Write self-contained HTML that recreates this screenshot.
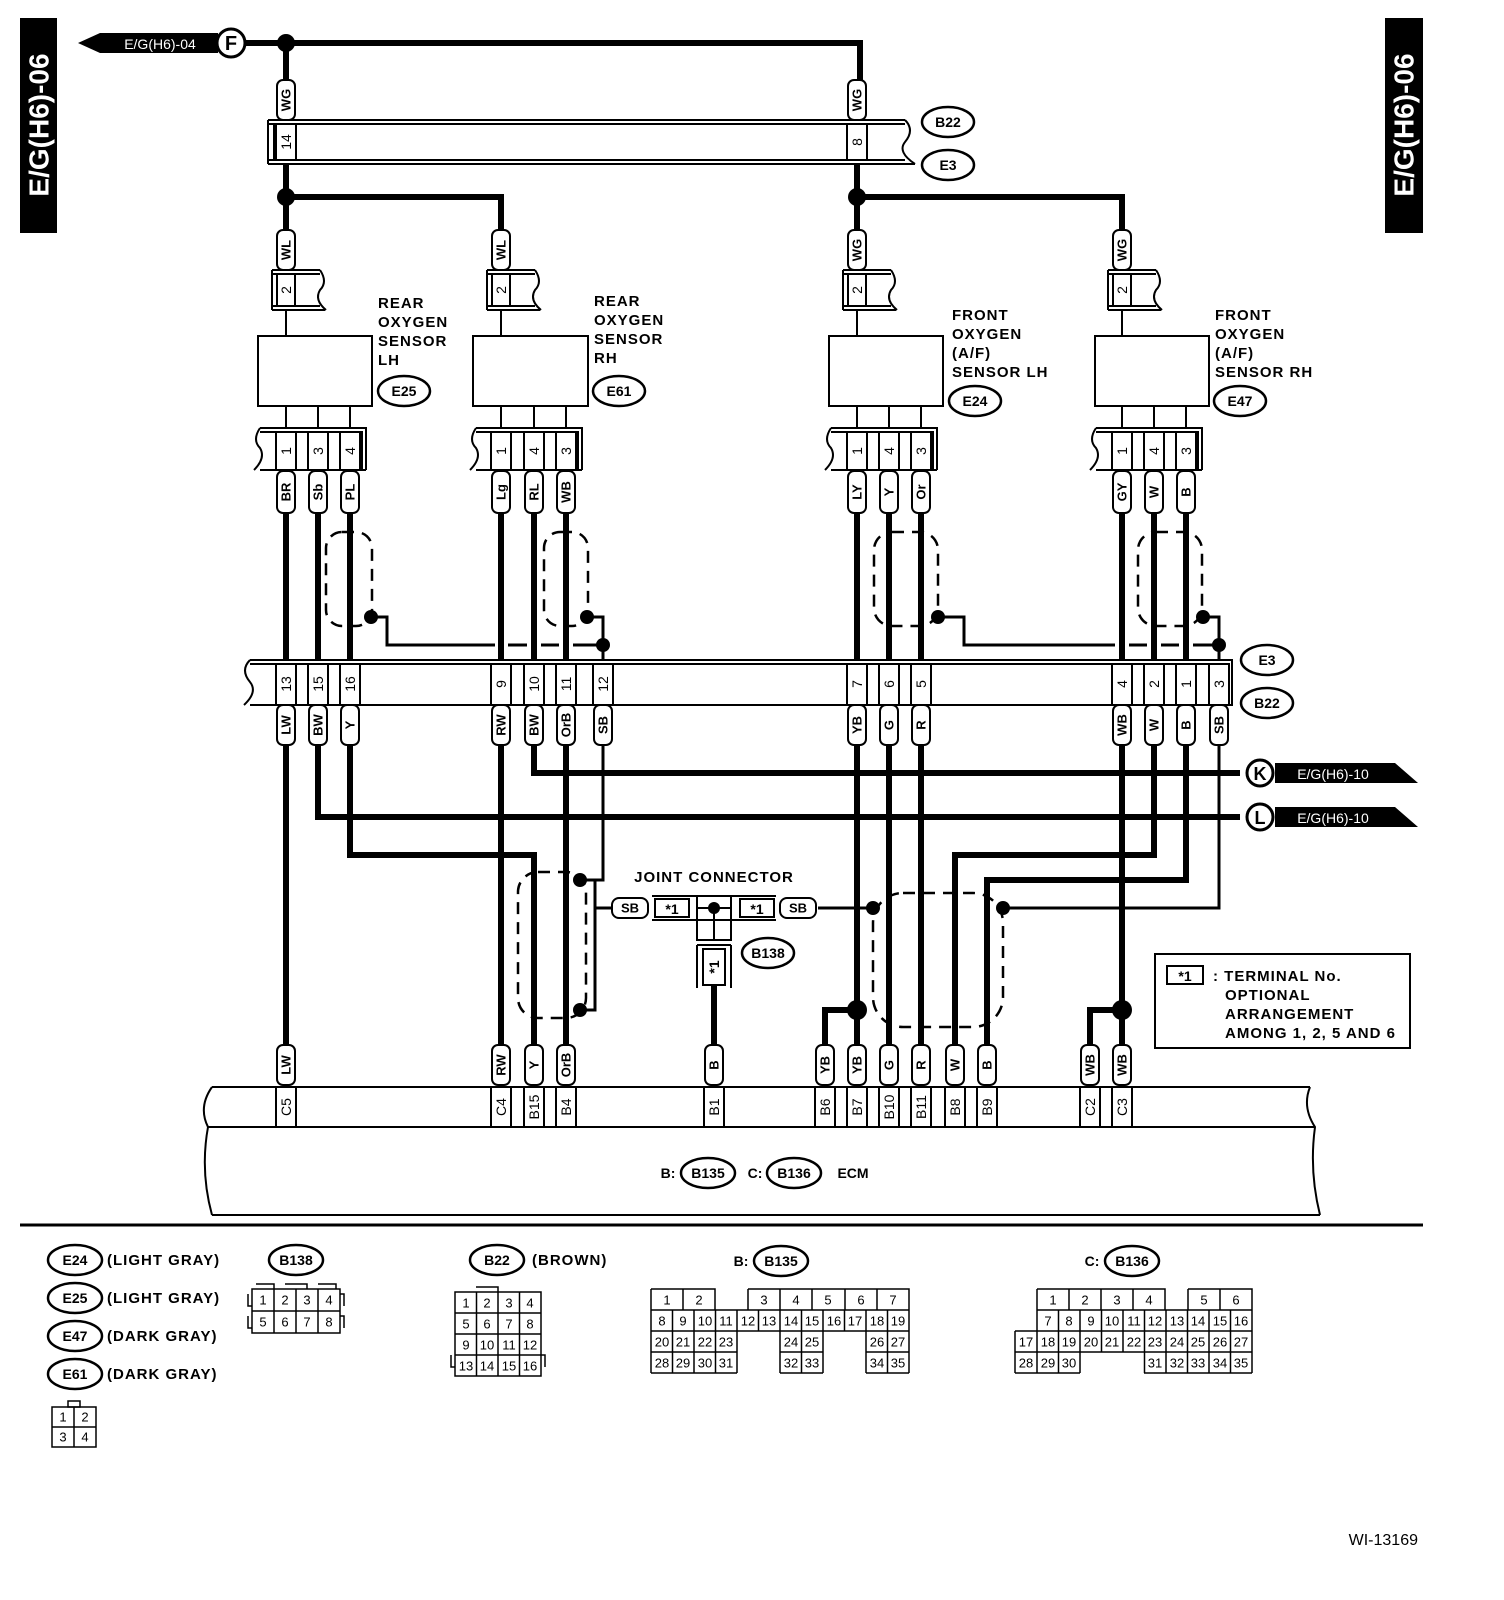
<!DOCTYPE html><html><head><meta charset="utf-8"><style>
body{margin:0;background:#fff}
svg{display:block;font-family:"Liberation Sans",sans-serif;font-weight:bold}
.w{stroke:#000;stroke-width:6;fill:none}
.l{stroke:#000;stroke-width:3;fill:none}
.n{stroke:#000;stroke-width:2;fill:none}
.d{stroke:#000;stroke-width:2.5;fill:none;stroke-dasharray:12 8}
.b{fill:#fff;stroke:#000;stroke-width:2}
.t rect{fill:#fff;stroke:#000;stroke-width:2}
.t text{font-size:13px;text-anchor:middle;dominant-baseline:central}
.p text{font-size:13px;text-anchor:middle;dominant-baseline:central;font-weight:normal}
.c text{font-size:14px;text-anchor:middle;dominant-baseline:central;font-weight:normal}
.e ellipse{fill:#fff;stroke:#000;stroke-width:2.5}
.e text{font-size:14px;text-anchor:middle;dominant-baseline:central}
.lab{font-size:15px;letter-spacing:1px}
</style></head><body>
<svg width="1504" height="1600" viewBox="0 0 1504 1600" xmlns="http://www.w3.org/2000/svg">
<!-- side labels -->
<rect x="20" y="18" width="37" height="215" fill="#000"/>
<text transform="translate(39,125) rotate(-90)" fill="#fff" font-size="28" text-anchor="middle" dominant-baseline="central">E/G(H6)-06</text>
<rect x="1385" y="18" width="38" height="215" fill="#000"/>
<text transform="translate(1404,125) rotate(-90)" fill="#fff" font-size="28" text-anchor="middle" dominant-baseline="central">E/G(H6)-06</text>

<!-- top arrow F -->
<polygon points="78,43 100,33 218,33 218,53 100,53" fill="#000"/>
<text x="160" y="44" fill="#fff" font-size="14" font-weight="normal" text-anchor="middle" dominant-baseline="central">E/G(H6)-04</text>
<circle cx="231" cy="43" r="14" fill="#fff" stroke="#000" stroke-width="3"/>
<text x="231" y="44" font-size="20" text-anchor="middle" dominant-baseline="central">F</text>

<!-- top wires -->
<path class="w" d="M245,43 H860 V80 M286,43 V80 M286,164 V230 M286,197 H501 V230 M857,164 V230 M857,197 H1122 V230"/>
<circle cx="286" cy="43" r="9"/><circle cx="286" cy="197" r="9"/><circle cx="857" cy="197" r="9"/>

<!-- top connector -->
<path class="n" d="M268,120 H905 M268,124 H905 M268,160 H905 M268,164 H915 M268,120 V164 M274,124 V160"/>
<path class="n" d="M905,120 q10,10 0,22 q-8,10 10,22"/>
<g class="c"><rect class="b" x="276" y="124" width="20" height="36"/><text transform="translate(286,142) rotate(-90)">14</text>
<rect class="b" x="847" y="124" width="20" height="36"/><text transform="translate(857,142) rotate(-90)">8</text></g>
<g class="e"><ellipse cx="948" cy="122" rx="26" ry="15"/><text x="948" y="122">B22</text><ellipse cx="948" cy="165" rx="26" ry="15"/><text x="948" y="165">E3</text></g>

<!-- WG tags top -->
<g class="t"><g transform="translate(286,100)"><rect x="-9" y="-20" width="18" height="40" rx="6"/><text transform="rotate(-90)">WG</text></g>
<g transform="translate(857,100)"><rect x="-9" y="-20" width="18" height="40" rx="6"/><text transform="rotate(-90)">WG</text></g></g>

<!-- sensors: generic -->
<!-- sensor 1 -->
<g class="t">
<g transform="translate(286,250)"><rect x="-9" y="-20" width="18" height="40" rx="6"/><text transform="rotate(-90)">WL</text></g>
<g transform="translate(501,250)"><rect x="-9" y="-20" width="18" height="40" rx="6"/><text transform="rotate(-90)">WL</text></g>
<g transform="translate(857,250)"><rect x="-9" y="-20" width="18" height="40" rx="6"/><text transform="rotate(-90)">WG</text></g>
<g transform="translate(1122,250)"><rect x="-9" y="-20" width="18" height="40" rx="6"/><text transform="rotate(-90)">WG</text></g>
</g>
<g class="n">
<path d="M272,270 H320 M272,274 H320 M272,306 H320 M272,310 H325 M272,270 V310 M320,270 q8,12 0,20 q-6,10 6,20 M286,310 V336"/>
<path d="M487,270 H535 M487,274 H535 M487,306 H535 M487,310 H540 M487,270 V310 M535,270 q8,12 0,20 q-6,10 6,20 M501,310 V336"/>
<path d="M843,270 H891 M843,274 H891 M843,306 H891 M843,310 H896 M843,270 V310 M891,270 q8,12 0,20 q-6,10 6,20 M857,310 V336"/>
<path d="M1108,270 H1156 M1108,274 H1156 M1108,306 H1156 M1108,310 H1161 M1108,270 V310 M1156,270 q8,12 0,20 q-6,10 6,20 M1122,310 V336"/>
</g>
<g class="c">
<rect class="b" x="277" y="274" width="18" height="32"/><text transform="translate(286,290) rotate(-90)">2</text>
<rect class="b" x="492" y="274" width="18" height="32"/><text transform="translate(501,290) rotate(-90)">2</text>
<rect class="b" x="848" y="274" width="18" height="32"/><text transform="translate(857,290) rotate(-90)">2</text>
<rect class="b" x="1113" y="274" width="18" height="32"/><text transform="translate(1122,290) rotate(-90)">2</text>
</g>
<rect class="b" x="258" y="336" width="114" height="70"/>
<rect class="b" x="473" y="336" width="115" height="70"/>
<rect class="b" x="829" y="336" width="114" height="70"/>
<rect class="b" x="1095" y="336" width="114" height="70"/>
<g class="lab">
<text x="378" y="308">REAR</text><text x="378" y="327">OXYGEN</text><text x="378" y="346">SENSOR</text><text x="378" y="365">LH</text>
<text x="594" y="306">REAR</text><text x="594" y="325">OXYGEN</text><text x="594" y="344">SENSOR</text><text x="594" y="363">RH</text>
<text x="952" y="320">FRONT</text><text x="952" y="339">OXYGEN</text><text x="952" y="358">(A/F)</text><text x="952" y="377">SENSOR LH</text>
<text x="1215" y="320">FRONT</text><text x="1215" y="339">OXYGEN</text><text x="1215" y="358">(A/F)</text><text x="1215" y="377">SENSOR RH</text>
</g>
<g class="e">
<ellipse cx="404" cy="391" rx="26" ry="15"/><text x="404" y="391">E25</text>
<ellipse cx="619" cy="391" rx="26" ry="15"/><text x="619" y="391">E61</text>
<ellipse cx="975" cy="401" rx="26" ry="15"/><text x="975" y="401">E24</text>
<ellipse cx="1240" cy="401" rx="26" ry="15"/><text x="1240" y="401">E47</text>
</g>
<!-- sensor bottom connectors -->
<g class="n">
<path d="M286,406 V428 M318,406 V428 M350,406 V428 M501,406 V428 M534,406 V428 M566,406 V428 M857,406 V428 M889,406 V428 M921,406 V428 M1122,406 V428 M1154,406 V428 M1186,406 V428"/>
<path d="M260,428 H366 V470 M260,432 H362 V470 M260,470 H366 M260,428 q-8,12 0,20 q6,10 -6,22"/>
<path d="M476,428 H582 V470 M476,432 H578 V470 M476,470 H582 M476,428 q-8,12 0,20 q6,10 -6,22"/>
<path d="M831,428 H937 V470 M831,432 H933 V470 M831,470 H937 M831,428 q-8,12 0,20 q6,10 -6,22"/>
<path d="M1096,428 H1202 V470 M1096,432 H1198 V470 M1096,470 H1202 M1096,428 q-8,12 0,20 q6,10 -6,22"/>
</g>
<g class="c">
<rect class="b" x="276" y="432" width="20" height="38"/><text transform="translate(286,451) rotate(-90)">1</text>
<rect class="b" x="308" y="432" width="20" height="38"/><text transform="translate(318,451) rotate(-90)">3</text>
<rect class="b" x="340" y="432" width="20" height="38"/><text transform="translate(350,451) rotate(-90)">4</text>
<rect class="b" x="491" y="432" width="20" height="38"/><text transform="translate(501,451) rotate(-90)">1</text>
<rect class="b" x="524" y="432" width="20" height="38"/><text transform="translate(534,451) rotate(-90)">4</text>
<rect class="b" x="556" y="432" width="20" height="38"/><text transform="translate(566,451) rotate(-90)">3</text>
<rect class="b" x="847" y="432" width="20" height="38"/><text transform="translate(857,451) rotate(-90)">1</text>
<rect class="b" x="879" y="432" width="20" height="38"/><text transform="translate(889,451) rotate(-90)">4</text>
<rect class="b" x="911" y="432" width="20" height="38"/><text transform="translate(921,451) rotate(-90)">3</text>
<rect class="b" x="1112" y="432" width="20" height="38"/><text transform="translate(1122,451) rotate(-90)">1</text>
<rect class="b" x="1144" y="432" width="20" height="38"/><text transform="translate(1154,451) rotate(-90)">4</text>
<rect class="b" x="1176" y="432" width="20" height="38"/><text transform="translate(1186,451) rotate(-90)">3</text>
</g>

<!-- thick wires sensor to middle connector -->
<path class="w" d="M286,512 V660 M318,512 V660 M350,512 V660 M501,512 V660 M534,512 V660 M566,512 V660 M857,512 V660 M889,512 V660 M921,512 V660 M1122,512 V660 M1154,512 V660 M1186,512 V660"/>
<!-- shields upper -->
<g class="d">
<rect x="326" y="532" width="46" height="94" rx="16"/>
<rect x="544" y="532" width="44" height="94" rx="16"/>
<rect x="874" y="532" width="64" height="94" rx="18"/>
<rect x="1138" y="532" width="64" height="94" rx="18"/>
</g>
<path class="l" d="M371,617 H387 V645 H495 M508,645 H527 M541,645 H559 M573,645 H603 M587,617 H603 V660"/>
<path class="l" d="M938,617 H964 V645 H1115 M1129,645 H1147 M1161,645 H1179 M1193,645 H1219 M1203,617 H1219 V660"/>
<circle cx="371" cy="617" r="7"/><circle cx="587" cy="617" r="7"/><circle cx="603" cy="645" r="7"/>
<circle cx="938" cy="617" r="7"/><circle cx="1203" cy="617" r="7"/><circle cx="1219" cy="645" r="7"/>

<!-- tags under sensors -->
<g class="t">
<g transform="translate(286,492)"><rect x="-9" y="-21" width="18" height="42" rx="6"/><text transform="rotate(-90)">BR</text></g>
<g transform="translate(318,492)"><rect x="-9" y="-21" width="18" height="42" rx="6"/><text transform="rotate(-90)">Sb</text></g>
<g transform="translate(350,492)"><rect x="-9" y="-21" width="18" height="42" rx="6"/><text transform="rotate(-90)">PL</text></g>
<g transform="translate(501,492)"><rect x="-9" y="-21" width="18" height="42" rx="6"/><text transform="rotate(-90)">Lg</text></g>
<g transform="translate(534,492)"><rect x="-9" y="-21" width="18" height="42" rx="6"/><text transform="rotate(-90)">RL</text></g>
<g transform="translate(566,492)"><rect x="-9" y="-21" width="18" height="42" rx="6"/><text transform="rotate(-90)">WB</text></g>
<g transform="translate(857,492)"><rect x="-9" y="-21" width="18" height="42" rx="6"/><text transform="rotate(-90)">LY</text></g>
<g transform="translate(889,492)"><rect x="-9" y="-21" width="18" height="42" rx="6"/><text transform="rotate(-90)">Y</text></g>
<g transform="translate(921,492)"><rect x="-9" y="-21" width="18" height="42" rx="6"/><text transform="rotate(-90)">Or</text></g>
<g transform="translate(1122,492)"><rect x="-9" y="-21" width="18" height="42" rx="6"/><text transform="rotate(-90)">GY</text></g>
<g transform="translate(1154,492)"><rect x="-9" y="-21" width="18" height="42" rx="6"/><text transform="rotate(-90)">W</text></g>
<g transform="translate(1186,492)"><rect x="-9" y="-21" width="18" height="42" rx="6"/><text transform="rotate(-90)">B</text></g>
</g>

<!-- middle connector -->
<path class="n" d="M250,660 H1232 V705 H250 M250,664 H1228 V705 M250,660 q-10,10 0,22 q8,10 -6,23"/>
<g class="c">
<rect class="b" x="276" y="664" width="20" height="41"/><text transform="translate(286,684) rotate(-90)">13</text>
<rect class="b" x="308" y="664" width="20" height="41"/><text transform="translate(318,684) rotate(-90)">15</text>
<rect class="b" x="340" y="664" width="20" height="41"/><text transform="translate(350,684) rotate(-90)">16</text>
<rect class="b" x="491" y="664" width="20" height="41"/><text transform="translate(501,684) rotate(-90)">9</text>
<rect class="b" x="524" y="664" width="20" height="41"/><text transform="translate(534,684) rotate(-90)">10</text>
<rect class="b" x="556" y="664" width="20" height="41"/><text transform="translate(566,684) rotate(-90)">11</text>
<rect class="b" x="593" y="664" width="20" height="41"/><text transform="translate(603,684) rotate(-90)">12</text>
<rect class="b" x="847" y="664" width="20" height="41"/><text transform="translate(857,684) rotate(-90)">7</text>
<rect class="b" x="879" y="664" width="20" height="41"/><text transform="translate(889,684) rotate(-90)">6</text>
<rect class="b" x="911" y="664" width="20" height="41"/><text transform="translate(921,684) rotate(-90)">5</text>
<rect class="b" x="1112" y="664" width="20" height="41"/><text transform="translate(1122,684) rotate(-90)">4</text>
<rect class="b" x="1144" y="664" width="20" height="41"/><text transform="translate(1154,684) rotate(-90)">2</text>
<rect class="b" x="1176" y="664" width="20" height="41"/><text transform="translate(1186,684) rotate(-90)">1</text>
<rect class="b" x="1209" y="664" width="20" height="41"/><text transform="translate(1219,684) rotate(-90)">3</text>
</g>
<g class="e"><ellipse cx="1267" cy="660" rx="26" ry="15"/><text x="1267" y="660">E3</text><ellipse cx="1267" cy="703" rx="26" ry="15"/><text x="1267" y="703">B22</text></g>

<!-- lower wires -->
<path class="w" d="M286,745 V1045 M318,745 V817 H1240 M350,745 V855 H534 V1045 M501,745 V1045 M534,745 V773 H1240 M566,745 V1045 M857,745 V1045 M825,1045 V1010 H857 M889,745 V1045 M921,745 V1045 M1122,745 V1045 M1090,1045 V1010 H1122 M1154,745 V855 H955 V1045 M1186,745 V880 H987 V1045 M714,985 V1045"/>
<!-- white gaps for crossings -->
<g stroke="#fff" stroke-width="8">
<path d="M495,773 V773"/>
</g>
<path class="l" d="M603,745 V880 H580 M595,880 V1010 H580 M595,908 H612 M818,908 H873 M1219,745 V908 H1003"/>
<g class="d">
<rect x="518" y="872" width="68" height="146" rx="20"/>
<rect x="873" y="893" width="130" height="134" rx="30"/>
</g>
<circle cx="580" cy="880" r="7"/><circle cx="580" cy="1010" r="7"/>
<circle cx="873" cy="908" r="7"/><circle cx="1003" cy="908" r="7"/>
<circle cx="857" cy="1010" r="10"/><circle cx="1122" cy="1010" r="10"/>

<g class="t">
<g transform="translate(286,725)"><rect x="-9" y="-20" width="18" height="40" rx="6"/><text transform="rotate(-90)">LW</text></g>
<g transform="translate(318,725)"><rect x="-9" y="-20" width="18" height="40" rx="6"/><text transform="rotate(-90)">BW</text></g>
<g transform="translate(350,725)"><rect x="-9" y="-20" width="18" height="40" rx="6"/><text transform="rotate(-90)">Y</text></g>
<g transform="translate(501,725)"><rect x="-9" y="-20" width="18" height="40" rx="6"/><text transform="rotate(-90)">RW</text></g>
<g transform="translate(534,725)"><rect x="-9" y="-20" width="18" height="40" rx="6"/><text transform="rotate(-90)">BW</text></g>
<g transform="translate(566,725)"><rect x="-9" y="-20" width="18" height="40" rx="6"/><text transform="rotate(-90)">OrB</text></g>
<g transform="translate(603,725)"><rect x="-9" y="-20" width="18" height="40" rx="6"/><text transform="rotate(-90)">SB</text></g>
<g transform="translate(857,725)"><rect x="-9" y="-20" width="18" height="40" rx="6"/><text transform="rotate(-90)">YB</text></g>
<g transform="translate(889,725)"><rect x="-9" y="-20" width="18" height="40" rx="6"/><text transform="rotate(-90)">G</text></g>
<g transform="translate(921,725)"><rect x="-9" y="-20" width="18" height="40" rx="6"/><text transform="rotate(-90)">R</text></g>
<g transform="translate(1122,725)"><rect x="-9" y="-20" width="18" height="40" rx="6"/><text transform="rotate(-90)">WB</text></g>
<g transform="translate(1154,725)"><rect x="-9" y="-20" width="18" height="40" rx="6"/><text transform="rotate(-90)">W</text></g>
<g transform="translate(1186,725)"><rect x="-9" y="-20" width="18" height="40" rx="6"/><text transform="rotate(-90)">B</text></g>
<g transform="translate(1219,725)"><rect x="-9" y="-20" width="18" height="40" rx="6"/><text transform="rotate(-90)">SB</text></g>
<!-- ECM tags -->
<g transform="translate(286,1065)"><rect x="-9" y="-20" width="18" height="40" rx="6"/><text transform="rotate(-90)">LW</text></g>
<g transform="translate(501,1065)"><rect x="-9" y="-20" width="18" height="40" rx="6"/><text transform="rotate(-90)">RW</text></g>
<g transform="translate(534,1065)"><rect x="-9" y="-20" width="18" height="40" rx="6"/><text transform="rotate(-90)">Y</text></g>
<g transform="translate(566,1065)"><rect x="-9" y="-20" width="18" height="40" rx="6"/><text transform="rotate(-90)">OrB</text></g>
<g transform="translate(714,1065)"><rect x="-9" y="-20" width="18" height="40" rx="6"/><text transform="rotate(-90)">B</text></g>
<g transform="translate(825,1065)"><rect x="-9" y="-20" width="18" height="40" rx="6"/><text transform="rotate(-90)">YB</text></g>
<g transform="translate(857,1065)"><rect x="-9" y="-20" width="18" height="40" rx="6"/><text transform="rotate(-90)">YB</text></g>
<g transform="translate(889,1065)"><rect x="-9" y="-20" width="18" height="40" rx="6"/><text transform="rotate(-90)">G</text></g>
<g transform="translate(921,1065)"><rect x="-9" y="-20" width="18" height="40" rx="6"/><text transform="rotate(-90)">R</text></g>
<g transform="translate(955,1065)"><rect x="-9" y="-20" width="18" height="40" rx="6"/><text transform="rotate(-90)">W</text></g>
<g transform="translate(987,1065)"><rect x="-9" y="-20" width="18" height="40" rx="6"/><text transform="rotate(-90)">B</text></g>
<g transform="translate(1090,1065)"><rect x="-9" y="-20" width="18" height="40" rx="6"/><text transform="rotate(-90)">WB</text></g>
<g transform="translate(1122,1065)"><rect x="-9" y="-20" width="18" height="40" rx="6"/><text transform="rotate(-90)">WB</text></g>
</g>

<!-- K, L -->
<circle cx="1260" cy="773" r="13" fill="#fff" stroke="#000" stroke-width="3"/><text x="1260" y="774" font-size="18" text-anchor="middle" dominant-baseline="central">K</text>
<polygon points="1275,763 1395,763 1418,783 1275,783" fill="#000"/><text x="1333" y="774" fill="#fff" font-size="14" font-weight="normal" text-anchor="middle" dominant-baseline="central">E/G(H6)-10</text>
<circle cx="1260" cy="817" r="13" fill="#fff" stroke="#000" stroke-width="3"/><text x="1260" y="818" font-size="18" text-anchor="middle" dominant-baseline="central">L</text>
<polygon points="1275,807 1395,807 1418,827 1275,827" fill="#000"/><text x="1333" y="818" fill="#fff" font-size="14" font-weight="normal" text-anchor="middle" dominant-baseline="central">E/G(H6)-10</text>

<!-- joint connector -->
<text x="714" y="882" class="lab" text-anchor="middle">JOINT CONNECTOR</text>
<path class="n" d="M652,896 H776 M652,920 H776 M697,896 V940 H731 V896 M714,908 V940"/>
<g class="t">
<g transform="translate(630,908)"><rect x="-18" y="-10" width="36" height="20" rx="7"/><text transform="">SB</text></g>
<g transform="translate(798,908)"><rect x="-18" y="-10" width="36" height="20" rx="7"/><text>SB</text></g>
</g>
<rect class="b" x="655" y="899" width="34" height="18"/><text x="672" y="909" font-size="14" text-anchor="middle" dominant-baseline="central">*1</text>
<rect class="b" x="740" y="899" width="34" height="18"/><text x="757" y="909" font-size="14" text-anchor="middle" dominant-baseline="central">*1</text>
<path class="n" d="M697,908 H731"/>
<circle cx="714" cy="908" r="6"/>
<path class="n" d="M697,945 V988 M731,945 V988 M697,945 H731"/>
<rect class="b" x="703" y="949" width="22" height="36"/><text transform="translate(714,967) rotate(-90)" font-size="14" text-anchor="middle" dominant-baseline="central">*1</text>
<g class="e"><ellipse cx="768" cy="953" rx="26" ry="15"/><text x="768" y="953">B138</text></g>

<!-- legend -->
<rect x="1155" y="954" width="255" height="94" fill="none" stroke="#000" stroke-width="2"/>
<rect x="1167" y="966" width="36" height="18" fill="none" stroke="#000" stroke-width="2"/>
<text x="1185" y="976" font-size="14" text-anchor="middle" dominant-baseline="central">*1</text>
<g class="lab" font-size="14"><text x="1213" y="981">: TERMINAL No.</text><text x="1225" y="1000">OPTIONAL</text><text x="1225" y="1019">ARRANGEMENT</text><text x="1225" y="1038">AMONG 1, 2, 5 AND 6</text></g>

<!-- ECM -->
<path class="n" d="M212,1087 H1310 M208,1127 H1315 M212,1215 H1320"/>
<path class="n" d="M212,1087 q-14,20 -4,40 q-8,44 4,88 M1310,1087 q-8,20 5,40 q-6,44 5,88"/>
<g class="c">
<rect class="b" x="276" y="1087" width="20" height="40"/><text transform="translate(286,1107) rotate(-90)">C5</text>
<rect class="b" x="491" y="1087" width="20" height="40"/><text transform="translate(501,1107) rotate(-90)">C4</text>
<rect class="b" x="524" y="1087" width="20" height="40"/><text transform="translate(534,1107) rotate(-90)">B15</text>
<rect class="b" x="556" y="1087" width="20" height="40"/><text transform="translate(566,1107) rotate(-90)">B4</text>
<rect class="b" x="704" y="1087" width="20" height="40"/><text transform="translate(714,1107) rotate(-90)">B1</text>
<rect class="b" x="815" y="1087" width="20" height="40"/><text transform="translate(825,1107) rotate(-90)">B6</text>
<rect class="b" x="847" y="1087" width="20" height="40"/><text transform="translate(857,1107) rotate(-90)">B7</text>
<rect class="b" x="879" y="1087" width="20" height="40"/><text transform="translate(889,1107) rotate(-90)">B10</text>
<rect class="b" x="911" y="1087" width="20" height="40"/><text transform="translate(921,1107) rotate(-90)">B11</text>
<rect class="b" x="945" y="1087" width="20" height="40"/><text transform="translate(955,1107) rotate(-90)">B8</text>
<rect class="b" x="977" y="1087" width="20" height="40"/><text transform="translate(987,1107) rotate(-90)">B9</text>
<rect class="b" x="1080" y="1087" width="20" height="40"/><text transform="translate(1090,1107) rotate(-90)">C2</text>
<rect class="b" x="1112" y="1087" width="20" height="40"/><text transform="translate(1122,1107) rotate(-90)">C3</text>
</g>
<g class="e">
<text x="668" y="1173">B:</text><ellipse cx="708" cy="1173" rx="27" ry="15"/><text x="708" y="1173">B135</text>
<text x="755" y="1173">C:</text><ellipse cx="794" cy="1173" rx="27" ry="15"/><text x="794" y="1173">B136</text>
<text x="853" y="1173">ECM</text>
</g>
<line x1="20" y1="1225" x2="1423" y2="1225" stroke="#000" stroke-width="3"/>

<!-- bottom legend -->
<g class="e">
<ellipse cx="75" cy="1260" rx="27" ry="15"/><text x="75" y="1260">E24</text>
<ellipse cx="75" cy="1298" rx="27" ry="15"/><text x="75" y="1298">E25</text>
<ellipse cx="75" cy="1336" rx="27" ry="15"/><text x="75" y="1336">E47</text>
<ellipse cx="75" cy="1374" rx="27" ry="15"/><text x="75" y="1374">E61</text>
<ellipse cx="296" cy="1260" rx="27" ry="15"/><text x="296" y="1260">B138</text>
<ellipse cx="497" cy="1260" rx="27" ry="15"/><text x="497" y="1260">B22</text>
<text x="741" y="1261">B:</text><ellipse cx="781" cy="1261" rx="27" ry="15"/><text x="781" y="1261">B135</text>
<text x="1092" y="1261">C:</text><ellipse cx="1132" cy="1261" rx="27" ry="15"/><text x="1132" y="1261">B136</text>
</g>
<g class="lab" font-size="14">
<text x="107" y="1265">(LIGHT GRAY)</text><text x="107" y="1303">(LIGHT GRAY)</text><text x="107" y="1341">(DARK GRAY)</text><text x="107" y="1379">(DARK GRAY)</text>
<text x="532" y="1265">(BROWN)</text>
</g>

<g class="p" fill="none" stroke="#000" stroke-width="1.5">
<!-- E small -->
<rect x="68" y="1401" width="12" height="6"/>
<path d="M52,1407 H96 V1447 H52 Z M74,1407 V1447 M52,1427 H96"/>
<!-- B138 -->
<path d="M252,1289 H340 V1333 H252 Z M274,1289 V1333 M296,1289 V1333 M318,1289 V1333 M252,1311 H340 M256,1284 H274 V1289 M285,1284 H307 V1289 M318,1284 H336 V1289 M248,1294 V1306 H252 M248,1316 V1328 H252 M340,1294 H344 V1306 M340,1316 H344 V1328"/>
<!-- B22 -->
<path d="M455,1292 H541 V1376 H455 Z M476.5,1292 V1376 M498,1292 V1376 M519.5,1292 V1376 M455,1313 H541 M455,1334 H541 M455,1355 H541 M476,1287 H498 V1292 M451,1355 V1367 H455 M541,1355 H545 V1367"/>
<!-- B135 -->
<path d="M651,1289 H715 V1310 M651,1289 V1373 M683,1289 V1310 M748,1289 H909 V1373 M780,1289 V1310 M812,1289 V1310 M845,1289 V1310 M877,1289 V1310 M715,1289 V1310 M748,1289 V1310 M651,1310 H909 M651,1331 H909 M672.5,1310 V1373 M694,1310 V1373 M715.5,1310 V1373 M737,1310 V1373 M758.5,1310 V1331 M780,1310 V1373 M801.5,1310 V1373 M823,1310 V1373 M844.5,1310 V1331 M866,1310 V1373 M887.5,1310 V1373 M651,1352 H737 M780,1352 H823 M866,1352 H909 M651,1373 H737 M780,1373 H823 M866,1373 H909"/>
<!-- B136 -->
<path d="M1037,1289 H1165 V1310 M1037,1289 V1331 M1069,1289 V1310 M1101,1289 V1310 M1133,1289 V1310 M1188,1289 H1252 V1373 M1188,1289 V1310 M1220,1289 V1310 M1037,1310 H1252 M1015,1331 H1252 M1015,1331 V1373 M1058.5,1310 V1373 M1080,1310 V1373 M1101.5,1310 V1352 M1123,1310 V1352 M1144.5,1310 V1373 M1166,1310 V1373 M1187.5,1310 V1373 M1209,1310 V1373 M1230.5,1310 V1373 M1037,1331 V1373 M1015,1352 H1252 M1015,1373 H1080 M1144,1373 H1252"/>
</g>
<g class="p">
<text x="63" y="1417">1</text><text x="85" y="1417">2</text><text x="63" y="1437">3</text><text x="85" y="1437">4</text>
<text x="263" y="1300">1</text><text x="285" y="1300">2</text><text x="307" y="1300">3</text><text x="329" y="1300">4</text>
<text x="263" y="1322">5</text><text x="285" y="1322">6</text><text x="307" y="1322">7</text><text x="329" y="1322">8</text>
<text x="466" y="1303">1</text><text x="487" y="1303">2</text><text x="509" y="1303">3</text><text x="530" y="1303">4</text>
<text x="466" y="1324">5</text><text x="487" y="1324">6</text><text x="509" y="1324">7</text><text x="530" y="1324">8</text>
<text x="466" y="1345">9</text><text x="487" y="1345">10</text><text x="509" y="1345">11</text><text x="530" y="1345">12</text>
<text x="466" y="1366">13</text><text x="487" y="1366">14</text><text x="509" y="1366">15</text><text x="530" y="1366">16</text>
<!-- B135 -->
<text x="667" y="1300">1</text><text x="699" y="1300">2</text><text x="764" y="1300">3</text><text x="796" y="1300">4</text><text x="828" y="1300">5</text><text x="861" y="1300">6</text><text x="893" y="1300">7</text>
<text x="662" y="1321">8</text><text x="683" y="1321">9</text><text x="705" y="1321">10</text><text x="726" y="1321">11</text><text x="748" y="1321">12</text><text x="769" y="1321">13</text><text x="791" y="1321">14</text><text x="812" y="1321">15</text><text x="834" y="1321">16</text><text x="855" y="1321">17</text><text x="877" y="1321">18</text><text x="898" y="1321">19</text>
<text x="662" y="1342">20</text><text x="683" y="1342">21</text><text x="705" y="1342">22</text><text x="726" y="1342">23</text><text x="791" y="1342">24</text><text x="812" y="1342">25</text><text x="877" y="1342">26</text><text x="898" y="1342">27</text>
<text x="662" y="1363">28</text><text x="683" y="1363">29</text><text x="705" y="1363">30</text><text x="726" y="1363">31</text><text x="791" y="1363">32</text><text x="812" y="1363">33</text><text x="877" y="1363">34</text><text x="898" y="1363">35</text>
<!-- B136 -->
<text x="1053" y="1300">1</text><text x="1085" y="1300">2</text><text x="1117" y="1300">3</text><text x="1149" y="1300">4</text><text x="1204" y="1300">5</text><text x="1236" y="1300">6</text>
<text x="1048" y="1321">7</text><text x="1069" y="1321">8</text><text x="1091" y="1321">9</text><text x="1112" y="1321">10</text><text x="1134" y="1321">11</text><text x="1155" y="1321">12</text><text x="1177" y="1321">13</text><text x="1198" y="1321">14</text><text x="1220" y="1321">15</text><text x="1241" y="1321">16</text>
<text x="1026" y="1342">17</text><text x="1048" y="1342">18</text><text x="1069" y="1342">19</text><text x="1091" y="1342">20</text><text x="1112" y="1342">21</text><text x="1134" y="1342">22</text><text x="1155" y="1342">23</text><text x="1177" y="1342">24</text><text x="1198" y="1342">25</text><text x="1220" y="1342">26</text><text x="1241" y="1342">27</text>
<text x="1026" y="1363">28</text><text x="1048" y="1363">29</text><text x="1069" y="1363">30</text><text x="1155" y="1363">31</text><text x="1177" y="1363">32</text><text x="1198" y="1363">33</text><text x="1220" y="1363">34</text><text x="1241" y="1363">35</text>
</g>
<text x="1418" y="1545" font-size="16" font-weight="normal" text-anchor="end">WI-13169</text>
</svg>
</body></html>
